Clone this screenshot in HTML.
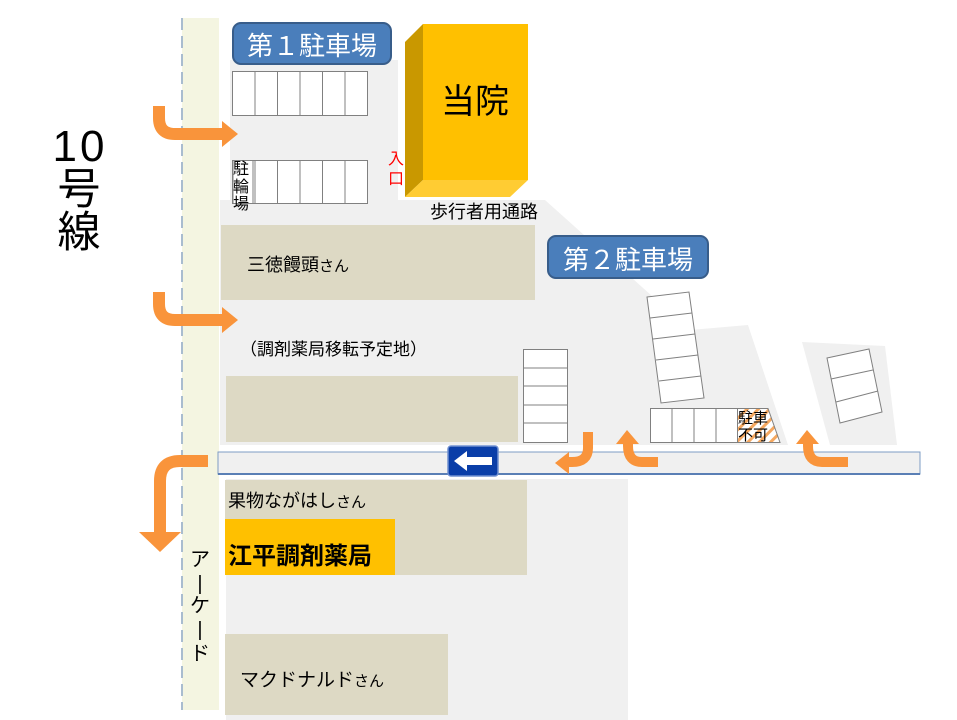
<!DOCTYPE html>
<html><head><meta charset="utf-8"><style>
body{margin:0;background:#fff;width:957px;height:720px;overflow:hidden}
svg{display:block}
text{font-family:"Liberation Sans","Noto Sans CJK JP",sans-serif}
</style></head><body>
<svg width="957" height="720" viewBox="0 0 957 720" xmlns="http://www.w3.org/2000/svg">
<rect x="230" y="60" width="180" height="150" fill="#f0f0f0"/>
<polygon points="220,200 545,200 690,330 748,325 788,445 220,445" fill="#f0f0f0"/>
<polygon points="802,342 885,346 897,445 830,445" fill="#f0f0f0"/>
<rect x="226" y="479" width="402" height="241" fill="#f0f0f0"/>
<rect x="398" y="0" width="142" height="200" fill="#fff"/>
<rect x="182" y="18" width="37" height="692" fill="#f4f5e1"/>
<line x1="182" y1="18" x2="182" y2="710" stroke="#a9bccf" stroke-width="2" stroke-dasharray="12,6"/>
<rect x="218" y="452" width="702" height="22" fill="#f0f0f0" stroke="#7e9cc4" stroke-width="1"/>
<line x1="218" y1="474" x2="920" y2="474" stroke="#5a7fb5" stroke-width="2"/>
<rect x="221" y="225" width="314" height="75" fill="#ddd9c4"/>
<rect x="226" y="376" width="292" height="66" fill="#ddd9c4"/>
<rect x="225" y="480" width="302" height="95" fill="#ddd9c4"/>
<rect x="225" y="519" width="170" height="56" fill="#ffc000"/>
<rect x="225" y="634" width="223" height="81" fill="#ddd9c4"/>
<rect x="423" y="24" width="105" height="156" fill="#ffc000"/>
<polygon points="405,42 423,24 423,180 405,197" fill="#c99800"/>
<polygon points="405,197 423,180 528,180 510,197" fill="#ffcc33"/>
<text x="475" y="113" font-size="34" text-anchor="middle" fill="#000">当院</text>
<text x="396" y="164" font-size="16" fill="#ff0000" text-anchor="middle">入</text>
<text x="396" y="184" font-size="16" fill="#ff0000" text-anchor="middle">口</text>
<rect x="233" y="23" width="158" height="41" rx="8" fill="#4a7ebb" stroke="#385d8a" stroke-width="2"/>
<text x="312" y="55" font-size="26" fill="#fff" text-anchor="middle">第１駐車場</text>
<rect x="548" y="236" width="160" height="42" rx="8" fill="#4a7ebb" stroke="#385d8a" stroke-width="2"/>
<text x="628" y="269" font-size="26" fill="#fff" text-anchor="middle">第２駐車場</text>
<g fill="#fff" stroke="#808080" stroke-width="1">
<rect x="232.5" y="71.5" width="135" height="44"/>
<rect x="232.5" y="160.5" width="135" height="43"/>
<rect x="523.5" y="349.5" width="44" height="93"/>
<rect x="650.5" y="408.5" width="87" height="34"/>
</g>
<g stroke="#808080" stroke-width="1">
<line x1="255" y1="71" x2="255" y2="115"/><line x1="277.5" y1="71" x2="277.5" y2="115"/><line x1="300" y1="71" x2="300" y2="115"/><line x1="322.5" y1="71" x2="322.5" y2="115"/><line x1="345" y1="71" x2="345" y2="115"/>
<line x1="255" y1="160" x2="255" y2="203"/><line x1="277.5" y1="160" x2="277.5" y2="203"/><line x1="300" y1="160" x2="300" y2="203"/><line x1="322.5" y1="160" x2="322.5" y2="203"/><line x1="345" y1="160" x2="345" y2="203"/>
<line x1="523" y1="368" x2="567" y2="368"/><line x1="523" y1="386" x2="567" y2="386"/><line x1="523" y1="405" x2="567" y2="405"/><line x1="523" y1="423" x2="567" y2="423"/>
<line x1="672" y1="408" x2="672" y2="442"/><line x1="694" y1="408" x2="694" y2="442"/><line x1="716" y1="408" x2="716" y2="442"/>
</g>
<rect x="233" y="160.5" width="20" height="43" fill="#fff" stroke="#808080"/>
<text font-size="16" fill="#000"><tspan x="233" y="174">駐</tspan><tspan x="233" y="192">輪</tspan><tspan x="233" y="209">場</tspan></text>
<g fill="#fff" stroke="#808080" stroke-width="1">
<polygon points="647,297 689,292 704,398 661,403"/>
<line x1="650" y1="318" x2="692" y2="313"/><line x1="653" y1="339" x2="695" y2="334"/><line x1="656" y1="360" x2="698" y2="355"/><line x1="659" y1="381" x2="701" y2="376"/>
<polygon points="827,358 869,349 882,412 840,423"/>
<line x1="831" y1="379" x2="873" y2="370"/><line x1="836" y1="402" x2="878" y2="391"/>
</g>
<defs><pattern id="h" width="8" height="8" patternUnits="userSpaceOnUse" patternTransform="rotate(45)"><rect width="8" height="8" fill="#fff"/><rect width="3" height="8" fill="#f5a860"/></pattern></defs>
<polygon points="737.5,408.5 768,408.5 780,442.5 737.5,442.5" fill="url(#h)" stroke="#808080"/>
<text font-size="15" fill="#000"><tspan x="738" y="423">駐車</tspan><tspan x="738" y="440">不可</tspan></text>
<rect x="448" y="446" width="50" height="30" rx="3" fill="#0a3ea8" stroke="#6f8fd0" stroke-width="1.5"/>
<polygon points="454,461 467,451 467,457 492,457 492,465 467,465 467,471" fill="#fff"/>
<text x="247" y="271" font-size="18" fill="#000">三徳饅頭<tspan font-size="15">さん</tspan></text>
<text x="430" y="218" font-size="18" fill="#000">歩行者用通路</text>
<text x="240" y="355" font-size="17" fill="#000">（調剤薬局移転予定地）</text>
<text x="228" y="507" font-size="18" fill="#000">果物ながはし<tspan font-size="15">さん</tspan></text>
<text x="228" y="564" font-size="24" font-weight="bold" fill="#000">江平調剤薬局</text>
<text x="240" y="686" font-size="19" fill="#000">マクドナルド<tspan font-size="15">さん</tspan></text>
<text font-size="20" fill="#000" text-anchor="middle"><tspan x="200" y="566">ア</tspan><tspan x="200" y="590">|</tspan><tspan x="200" y="612">ケ</tspan><tspan x="200" y="636">|</tspan><tspan x="200" y="660">ド</tspan></text>
<text x="80" y="161" font-size="44" fill="#000" text-anchor="middle" letter-spacing="3">10</text>
<text x="79" y="204" font-size="43" fill="#000" text-anchor="middle">号</text>
<text x="79" y="247" font-size="43" fill="#000" text-anchor="middle">線</text>
<g fill="none" stroke="#f9943b" stroke-width="12">
<path d="M159,106 V118 Q159,134 175,134 H223"/>
<path d="M159,292 V304 Q159,320 175,320 H223"/>
<path d="M208,461 H180 Q160,461 160,481 V533"/>
</g>
<g fill="#f9943b">
<polygon points="222,121 238,134 222,147"/>
<polygon points="222,307 238,320 222,333"/>
<polygon points="139,532 181,532 160,552"/>
</g>
<g fill="none" stroke="#f9943b" stroke-width="10">
<path d="M588,432 V448 Q588,462 572,462 H568"/>
<path d="M658,462 H642 Q628,462 628,446 V442"/>
<path d="M848,462 H822 Q808,462 808,446 V442"/>
</g>
<g fill="#f9943b">
<polygon points="569,452 555,463 569,474"/>
<polygon points="616,444 627,430 639,444"/>
<polygon points="796,444 807,430 819,444"/>
</g>
</svg>
</body></html>
